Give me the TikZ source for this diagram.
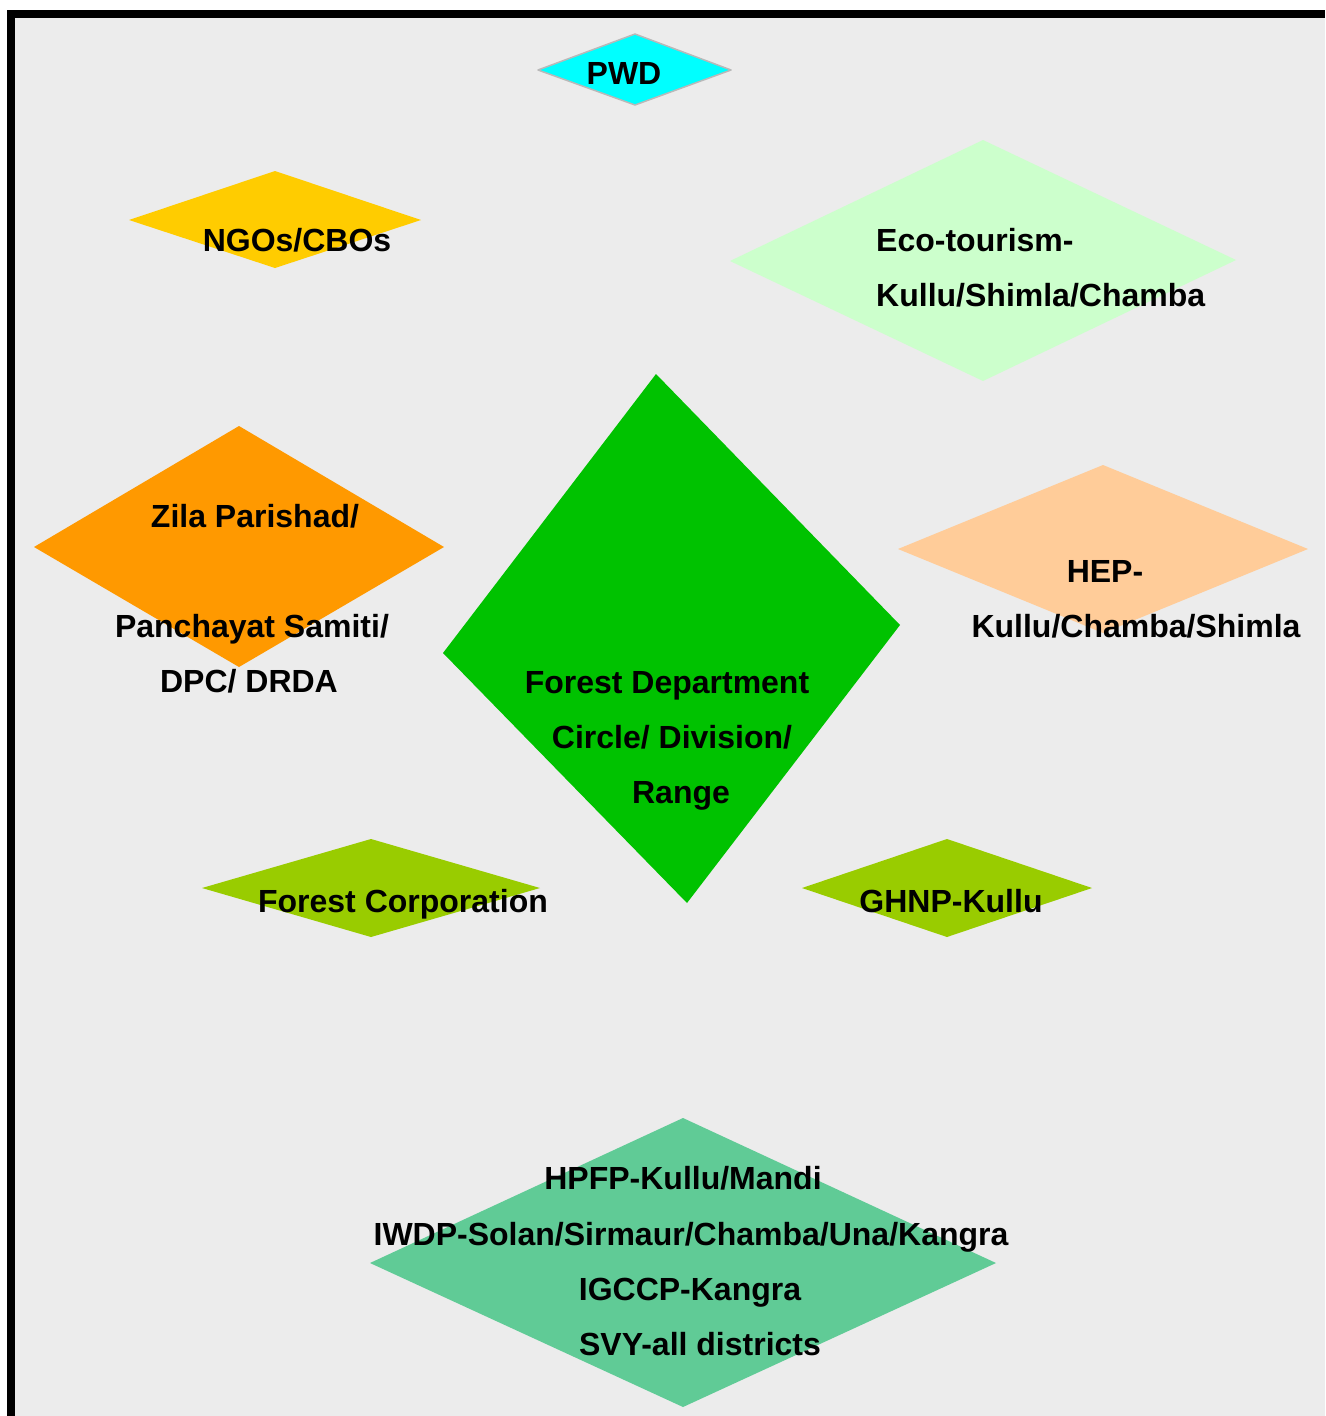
\documentclass[tikz,border=0pt]{standalone}
\usepackage{fontspec}
\setmainfont{Liberation Sans}
\definecolor{bgc}{RGB}{236,236,236}
\definecolor{cpwd}{RGB}{0,255,255}
\definecolor{cngo}{RGB}{255,204,0}
\definecolor{ceco}{RGB}{204,255,204}
\definecolor{czila}{RGB}{255,153,0}
\definecolor{cfd}{RGB}{0,194,0}
\definecolor{chep}{RGB}{255,204,153}
\definecolor{cfc}{RGB}{153,204,0}
\definecolor{cbot}{RGB}{96,203,150}
\begin{document}
\begin{tikzpicture}[x=1pt,y=-1pt,
  lbl/.style={anchor=base,inner sep=0pt,font=\bfseries\fontsize{32}{38}\selectfont,text=black},
  lblL/.style={lbl,anchor=base west},
  shp/.style={draw=none}]
\useasboundingbox (0,0) rectangle (1325,1416);
\fill[white] (0,0) rectangle (1325,1416);
\fill[bgc] (7,10) rectangle (1325,1416);
\fill[black] (7,10) rectangle (1325,18);
\fill[black] (7,10) rectangle (15,1416);
% shapes
\filldraw[fill=cpwd,draw=gray!55,line width=1.5pt,line join=round] (538,70) -- (635,34) -- (731,70) -- (635,105) -- cycle;
\fill[cngo] (129,220) -- (275,171) -- (421,220) -- (275,268) -- cycle;
\fill[ceco] (730,261) -- (983,140) -- (1236,260) -- (983,381) -- cycle;
\fill[czila] (34,547) -- (239,426) -- (444,547) -- (239,667) -- cycle;
\fill[chep] (898,549) -- (1103,465) -- (1308,549) -- (1103,633) -- cycle;
\fill[cfd] (443,653) -- (656,374) -- (900,625) -- (687,903) -- cycle;
\fill[cfc] (202,888) -- (371,839) -- (540,888) -- (371,937) -- cycle;
\fill[cfc] (802,888) -- (947,839) -- (1092,888) -- (947,937) -- cycle;
\fill[cbot] (370,1263) -- (683,1118) -- (996,1263) -- (683,1407) -- cycle;
% labels
\node[lbl] (pwd) at (624,84) {PWD};
\node[lbl] (ngo) at (297,251) {NGOs/CBOs};
\node[lblL] (eco1) at (876,251) {Eco-tourism-};
\node[lblL] (eco2) at (876,306) {Kullu/Shimla/Chamba};
\node[lbl] (zila1) at (255,527) {Zila Parishad/};
\node[lbl] (zila2) at (252,637) {Panchayat Samiti/};
\node[lbl] (zila3) at (249,692) {DPC/ DRDA};
\node[lbl] (hep1) at (1105,582) {HEP-};
\node[lbl] (hep2) at (1136,637) {Kullu/Chamba/Shimla};
\node[lbl] (fd1) at (667,693) {Forest Department};
\node[lbl] (fd2) at (672,748) {Circle/ Division/};
\node[lbl] (fd3) at (681,803) {Range};
\node[lbl] (fc) at (403,912) {Forest Corporation};
\node[lbl] (ghnp) at (951,912) {GHNP-Kullu};
\node[lbl] (b1) at (683,1189) {HPFP-Kullu/Mandi};
\node[lbl] (b2) at (691,1245) {IWDP-Solan/Sirmaur/Chamba/Una/Kangra};
\node[lbl] (b3) at (690,1300) {IGCCP-Kangra};
\node[lbl] (b4) at (700,1355) {SVY-all districts};
\end{tikzpicture}
\end{document}
